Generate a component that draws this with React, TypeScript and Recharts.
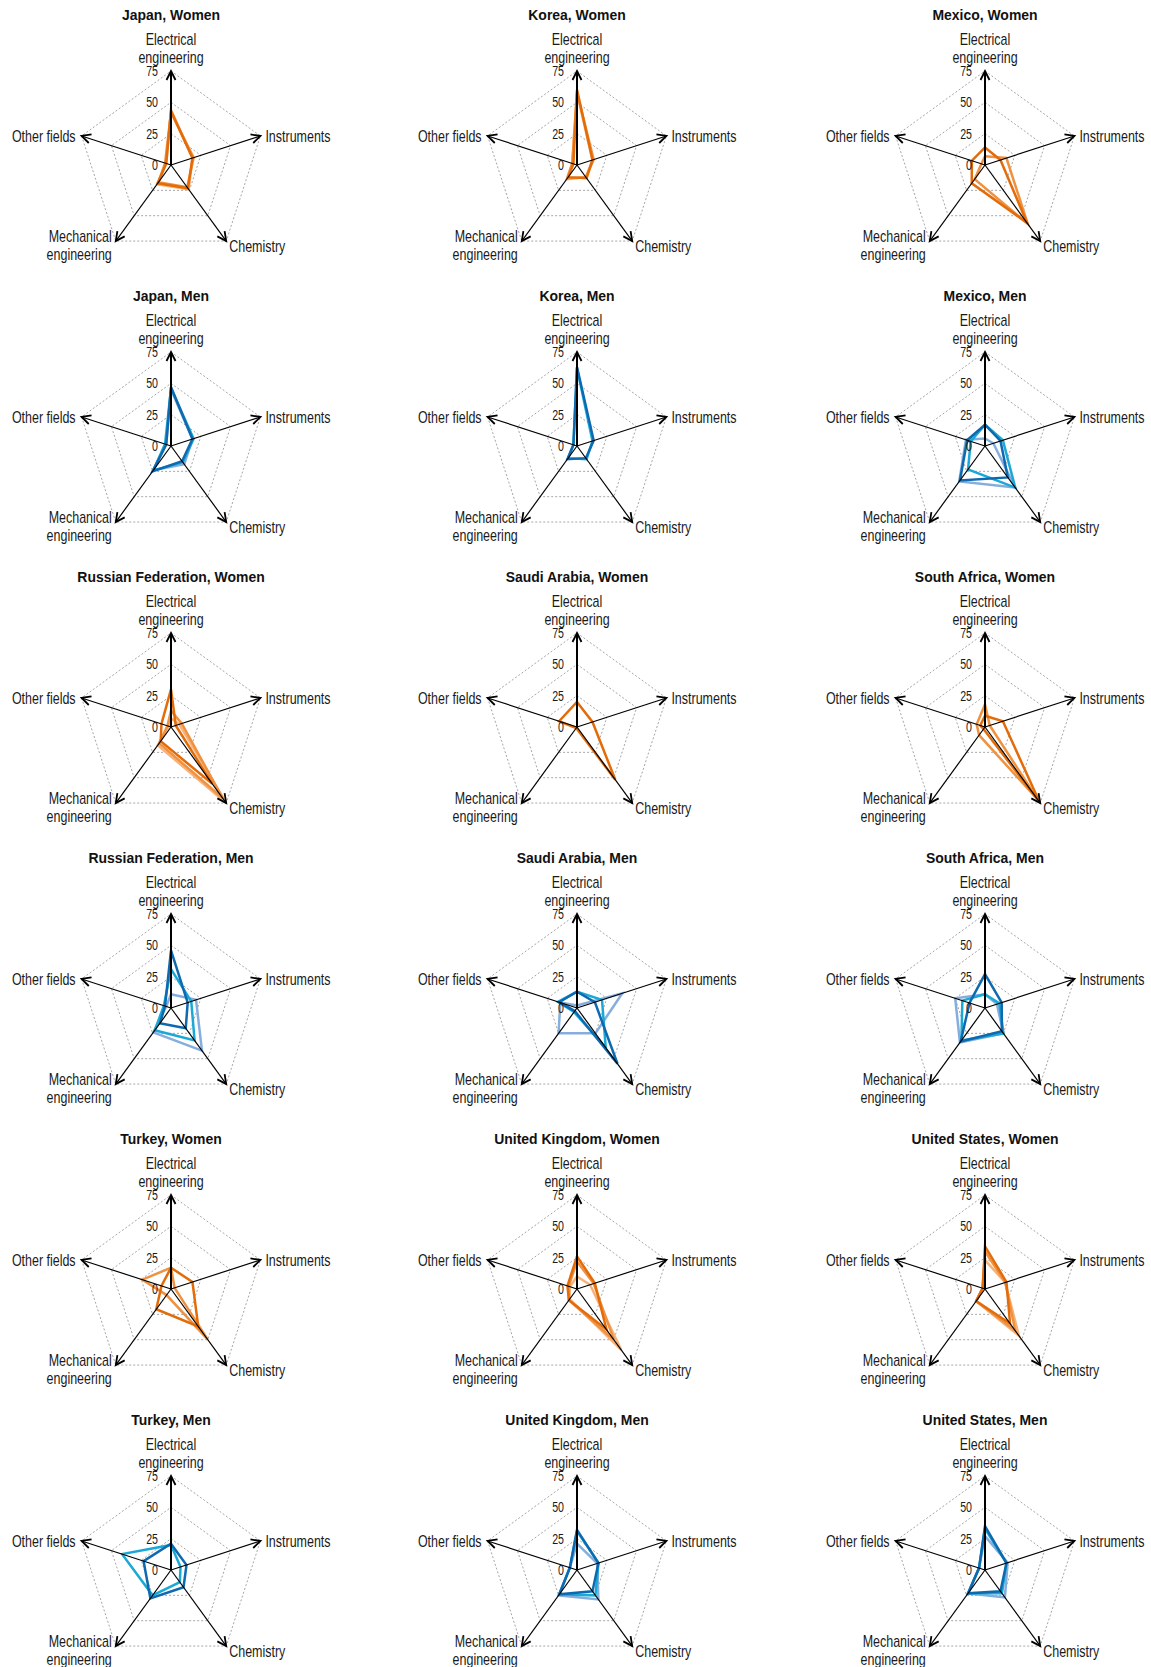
import React from 'react';
import { RadarChart, Radar, PolarGrid, PolarAngleAxis, PolarRadiusAxis } from 'recharts';

// axes of every panel, clockwise from the top
const fields = ['Electrical engineering', 'Instruments', 'Chemistry', 'Mechanical engineering', 'Other fields'];

const titles = [
  'Japan, Women', 'Korea, Women', 'Mexico, Women',
  'Japan, Men', 'Korea, Men', 'Mexico, Men',
  'Russian Federation, Women', 'Saudi Arabia, Women', 'South Africa, Women',
  'Russian Federation, Men', 'Saudi Arabia, Men', 'South Africa, Men',
  'Turkey, Women', 'United Kingdom, Women', 'United States, Women',
  'Turkey, Men', 'United Kingdom, Men', 'United States, Men',
];

// series per panel: [dark, medium, light], values per field (%)
const japanWomen = [[43, 18, 23, 18, 4], [42, 19, 22, 17, 5], [44, 18, 24, 19, 4]];
const koreaWomen = [[60, 13, 13, 12, 3], [58, 14, 12, 13, 4], [57, 13, 12, 14, 4]];
const mexicoWomen = [[14, 13, 57, 18, 11], [7, 18, 58, 14, 3]];
const japanMen = [[47, 18, 15, 25, 4], [46, 19, 16, 24, 5], [45, 18, 18, 24, 4]];
const koreaMen = [[63, 14, 12, 13, 3], [62, 13, 13, 12, 3]];
const mexicoMen = [[17, 13, 31, 34, 15], [17, 15, 41, 23, 12], [6, 7, 41, 35, 16]];
const russiaWomen = [[30, 4, 56, 14, 8], [13, 9, 70, 16, 3], [7, 7, 75, 18, 2]];
const saudiWomen = [[20, 13, 52, 1, 15]];
const southAfricaWomen = [[9, 15, 74, 2, 4], [18, 4, 72, 8, 7]];
const russiaMen = [[46, 14, 20, 15, 5], [31, 17, 32, 22, 6], [11, 21, 42, 24, 4]];
const saudiMen = [[13, 15, 55, 3, 15], [13, 21, 39, 4, 16], [2, 38, 25, 25, 14]];
const southAfricaMen = [[27, 14, 23, 33, 13], [11, 12, 25, 32, 19], [11, 10, 25, 34, 25]];
const turkeyWomen = [[17, 18, 37, 20, 8], [17, 3, 50, 6, 24]];
const ukWomen = [[26, 15, 40, 11, 8], [22, 14, 50, 11, 7], [10, 11, 60, 10, 6]];
const usWomen = [[34, 18, 34, 12, 2], [30, 17, 41, 12, 2], [23, 17, 46, 12, 2]];
const turkeyMen = [[21, 13, 17, 28, 23], [20, 8, 12, 25, 41]];
const ukMen = [[32, 18, 21, 24, 6], [31, 18, 25, 24, 6], [21, 17, 29, 25, 6]];
const usMen = [[35, 18, 21, 23, 5], [33, 18, 23, 23, 5], [27, 19, 27, 23, 5]];

const panelSeries = [
  japanWomen, koreaWomen, mexicoWomen,
  japanMen, koreaMen, mexicoMen,
  russiaWomen, saudiWomen, southAfricaWomen,
  russiaMen, saudiMen, southAfricaMen,
  turkeyWomen, ukWomen, usWomen,
  turkeyMen, ukMen, usMen,
];

const womenColors = ['#E36C0A', '#F0913F', '#F7B27A'];
const menColors = ['#0E6AB0', '#1AA9D6', '#86AEDD'];

const colCenters = [171, 577, 985];
const rowCenters = [165, 446, 727, 1008, 1289, 1570];

const W = 400;
const H = 281;
const CX = 200;
const CY = 165;
const R = 94;
const FONT = "'Liberation Sans', Arial, sans-serif";

const Label = ({ x, y, anchor, size = 16, sx = 0.78, children }: any) => (
  <text
    transform={`translate(${x},${y}) scale(${sx},1)`}
    textAnchor={anchor}
    dy="0.36em"
    fontSize={size}
    fontFamily={FONT}
    fill="#1a1a1a"
  >
    {children}
  </text>
);

const AngleTick = (props: any) => {
  const { payload } = props;
  const idx = fields.indexOf(payload.value);
  const angle = typeof payload.coordinate === 'number' ? payload.coordinate : 90 - 72 * idx;
  const rad = (angle * Math.PI) / 180;
  const ux = Math.cos(rad);
  const uy = -Math.sin(rad);
  const tx = CX + R * ux;
  const ty = CY + R * uy;
  const bx = tx - 9 * ux;
  const by = ty - 9 * uy;
  const nx = -uy;
  const ny = ux;
  const head = `${bx + 4.5 * nx},${by + 4.5 * ny} ${tx},${ty} ${bx - 4.5 * nx},${by - 4.5 * ny}`;

  let label;
  if (idx === 0) {
    label = (
      <>
        <Label x={tx} y={ty - 32} anchor="middle">Electrical</Label>
        <Label x={tx} y={ty - 14} anchor="middle">engineering</Label>
      </>
    );
  } else if (idx === 1) {
    label = <Label x={tx + 5} y={ty} anchor="start">Instruments</Label>;
  } else if (idx === 2) {
    label = <Label x={tx + 3} y={ty + 5} anchor="start">Chemistry</Label>;
  } else if (idx === 3) {
    label = (
      <>
        <Label x={tx - 4} y={ty - 5} anchor="end">Mechanical</Label>
        <Label x={tx - 4} y={ty + 13} anchor="end">engineering</Label>
      </>
    );
  } else {
    label = <Label x={tx - 6} y={ty} anchor="end">Other fields</Label>;
  }

  return (
    <g>
      <line x1={CX} y1={CY} x2={tx} y2={ty} stroke="#000" strokeWidth={idx === 0 ? 2 : 1.2} />
      <polyline points={head} fill="none" stroke="#000" strokeWidth={1.8} />
      {label}
    </g>
  );
};

const RadiusTick = (props: any) => {
  const { x, y, payload } = props;
  return (
    <Label x={x - 13} y={y} anchor="end" size={14} sx={0.76}>
      {payload.value}
    </Label>
  );
};

const Panel = ({ index }: { index: number }) => {
  const series = panelSeries[index];
  const colors = Math.floor(index / 3) % 2 === 0 ? womenColors : menColors;
  const rows = fields.map((f, i) => {
    const row: any = { field: f };
    series.forEach((s, k) => {
      row[`s${k}`] = s[i];
    });
    return row;
  });
  const left = colCenters[index % 3] - W / 2;
  const top = rowCenters[Math.floor(index / 3)] - CY;
  const order = series.map((_, k) => k).reverse();

  return (
    <div style={{ position: 'absolute', left, top, width: W, height: H }}>
      <div
        style={{
          position: 'absolute',
          top: 6,
          left: 0,
          width: W,
          textAlign: 'center',
          fontFamily: FONT,
          fontWeight: 'bold',
          fontSize: 15,
          lineHeight: '18px',
          color: '#111',
          transform: 'scaleX(0.93)',
        }}
      >
        {titles[index]}
      </div>
      <RadarChart
        width={W}
        height={H}
        cx={CX}
        cy={CY}
        outerRadius={R}
        data={rows}
        margin={{ top: 0, right: 0, bottom: 0, left: 0 }}
      >
        <PolarGrid gridType="polygon" radialLines={false} stroke="#a6a6a6" strokeDasharray="2 2" />
        <PolarAngleAxis dataKey="field" tick={AngleTick} tickLine={false} axisLine={false} />
        <PolarRadiusAxis
          angle={90}
          domain={[0, 75]}
          tickCount={4}
          tick={RadiusTick}
          axisLine={false}
          tickLine={false}
        />
        {order.map((k) => (
          <Radar
            key={k}
            dataKey={`s${k}`}
            stroke={colors[k]}
            strokeWidth={2.5}
            fill="none"
            fillOpacity={0}
            dot={false}
            isAnimationActive={false}
          />
        ))}
      </RadarChart>
    </div>
  );
};

export default function App() {
  return (
    <div
      style={{
        position: 'absolute',
        left: 0,
        top: 0,
        width: 1151,
        height: 1667,
        overflow: 'hidden',
        background: '#fff',
      }}
    >
      {titles.map((_, i) => (
        <Panel key={i} index={i} />
      ))}
    </div>
  );
}
